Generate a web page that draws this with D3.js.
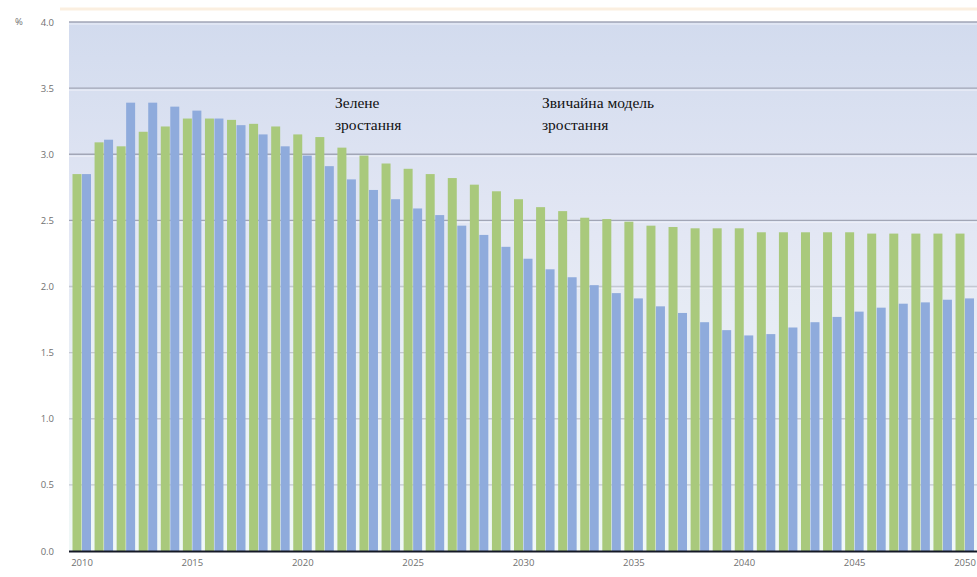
<!DOCTYPE html>
<html>
<head>
<meta charset="utf-8">
<script src="https://cdn.jsdelivr.net/npm/d3@7"></script>
<style>
  html, body { margin: 0; padding: 0; background: #ffffff; }
  svg { display: block; }
</style>
</head>
<body>
<svg id="chart" width="977" height="577"></svg>
<script>
// Annual growth rate, %, 2010–2050
const years = d3.range(2010, 2051);
const greenGrowth = [
  2.85, 3.09, 3.06, 3.17, 3.21, 3.27, 3.27, 3.26, 3.23, 3.21,
  3.15, 3.13, 3.05, 2.99, 2.93, 2.89, 2.85, 2.82, 2.77, 2.72,
  2.66, 2.60, 2.57, 2.52, 2.51, 2.49, 2.46, 2.45, 2.44, 2.44,
  2.44, 2.41, 2.41, 2.41, 2.41, 2.41, 2.40, 2.40, 2.40, 2.40,
  2.40
];
const baseGrowth = [
  2.85, 3.11, 3.39, 3.39, 3.36, 3.33, 3.27, 3.22, 3.15, 3.06,
  2.99, 2.91, 2.81, 2.73, 2.66, 2.59, 2.54, 2.46, 2.39, 2.30,
  2.21, 2.13, 2.07, 2.01, 1.95, 1.91, 1.85, 1.80, 1.73, 1.67,
  1.63, 1.64, 1.69, 1.73, 1.77, 1.81, 1.84, 1.87, 1.88, 1.90,
  1.91
];
const yTicks = [0, 0.5, 1.0, 1.5, 2.0, 2.5, 3.0, 3.5, 4.0];
const xTickYears = [2010, 2015, 2020, 2025, 2030, 2035, 2040, 2045, 2050];
const seriesNames = ["Зелене зростання", "Звичайна модель зростання"];
const seriesColors = ["#a9c97c", "#8fabdc"];

const svg = d3.select("#chart");
const plot = { left: 69, right: 977, top: 22, bottom: 551 };

const x = d3.scaleBand()
  .domain(years)
  .range([72.5, 72.5 + years.length * 22])
  .paddingInner(0.14)
  .paddingOuter(0);
const xSub = d3.scaleBand()
  .domain([0, 1])
  .range([0, x.bandwidth()])
  .padding(0);
const y = d3.scaleLinear().domain([0, 4]).range([plot.bottom, plot.top]);

// plot background
const defs = svg.append("defs");
const grad = defs.append("linearGradient")
  .attr("id", "bg").attr("x1", 0).attr("y1", 0).attr("x2", 0).attr("y2", 1);
grad.append("stop").attr("offset", "0%").attr("stop-color", "#d2dbee");
grad.append("stop").attr("offset", "40%").attr("stop-color", "#e3e7f4");
grad.append("stop").attr("offset", "100%").attr("stop-color", "#f0f8f7");

svg.append("line")
  .attr("x1", 60).attr("x2", 977).attr("y1", 9).attr("y2", 9)
  .attr("stroke", "#fbefe0").attr("stroke-width", 3);

svg.append("rect")
  .attr("x", plot.left).attr("y", plot.top)
  .attr("width", plot.right - plot.left).attr("height", plot.bottom - plot.top)
  .attr("fill", "url(#bg)");

// gridlines: stronger in the upper part, fading lower down
const gridVals = yTicks.filter(d => d > 0);
const grid = svg.append("g");
grid.selectAll("line.g1").data(gridVals).join("line")
  .attr("class", "g1")
  .attr("x1", plot.left).attr("x2", plot.right)
  .attr("y1", d => y(d)).attr("y2", d => y(d))
  .attr("stroke", d => d >= 2.5 ? "#a2a6b6" : "#c4c8d2")
  .attr("stroke-width", 1.4);
grid.selectAll("line.g2").data(gridVals).join("line")
  .attr("class", "g2")
  .attr("x1", plot.left).attr("x2", plot.right)
  .attr("y1", d => y(d) + 2).attr("y2", d => y(d) + 2)
  .attr("stroke", "#eef0f8").attr("stroke-width", 1);

// bars
const rows = years.map((yr, i) => ({ year: yr, values: [greenGrowth[i], baseGrowth[i]] }));
const groups = svg.append("g").selectAll("g").data(rows).join("g")
  .attr("transform", d => `translate(${x(d.year)},0)`);
groups.selectAll("rect").data(d => d.values.map((v, k) => ({ k, v }))).join("rect")
  .attr("x", d => xSub(d.k))
  .attr("width", xSub.bandwidth() - 0.5)
  .attr("y", d => y(d.v))
  .attr("height", d => y(0) - y(d.v))
  .attr("fill", d => seriesColors[d.k]);

// baseline
svg.append("line")
  .attr("x1", plot.left).attr("x2", plot.right)
  .attr("y1", y(0) + 0.5).attr("y2", y(0) + 0.5)
  .attr("stroke", "#141826").attr("stroke-width", 2.2);

// y axis labels
const yAxis = d3.axisLeft(y).tickValues(yTicks).tickFormat(d3.format(".1f")).tickSize(0).tickPadding(0);
const ya = svg.append("g").attr("transform", "translate(54,0)").call(yAxis);
ya.select(".domain").remove();
ya.selectAll("text")
  .attr("font-family", "'Open Sans', 'DejaVu Sans', sans-serif")
  .attr("font-size", 9.5)
  .attr("fill", "#707070");

svg.append("text")
  .attr("x", 15).attr("y", y(4) + 3)
  .attr("font-family", "'Open Sans', 'DejaVu Sans', sans-serif")
  .attr("font-size", 9.5).attr("fill", "#707070")
  .text("%");

// x axis labels
const xAxis = d3.axisBottom(x).tickValues(xTickYears).tickSize(0).tickPadding(0);
const xa = svg.append("g").attr("transform", `translate(0,${y(0) + 8})`).call(xAxis);
xa.select(".domain").remove();
xa.selectAll("text")
  .attr("dy", "0.71em")
  .attr("font-family", "'Open Sans', 'DejaVu Sans', sans-serif")
  .attr("font-size", 9.5)
  .attr("fill", "#707070");

// series captions
const captions = [
  { x: 335, lines: ["Зелене", "зростання"] },
  { x: 542, lines: ["Звичайна модель", "зростання"] }
];
captions.forEach(c => {
  const t = svg.append("text")
    .attr("x", c.x).attr("y", 108)
    .attr("font-family", "'Liberation Serif', 'Times New Roman', 'DejaVu Serif', serif")
    .attr("font-size", 15.5)
    .attr("fill", "#111111");
  c.lines.forEach((ln, i) => {
    t.append("tspan").attr("x", c.x).attr("dy", i === 0 ? 0 : 22).text(ln);
  });
});
</script>
</body>
</html>
